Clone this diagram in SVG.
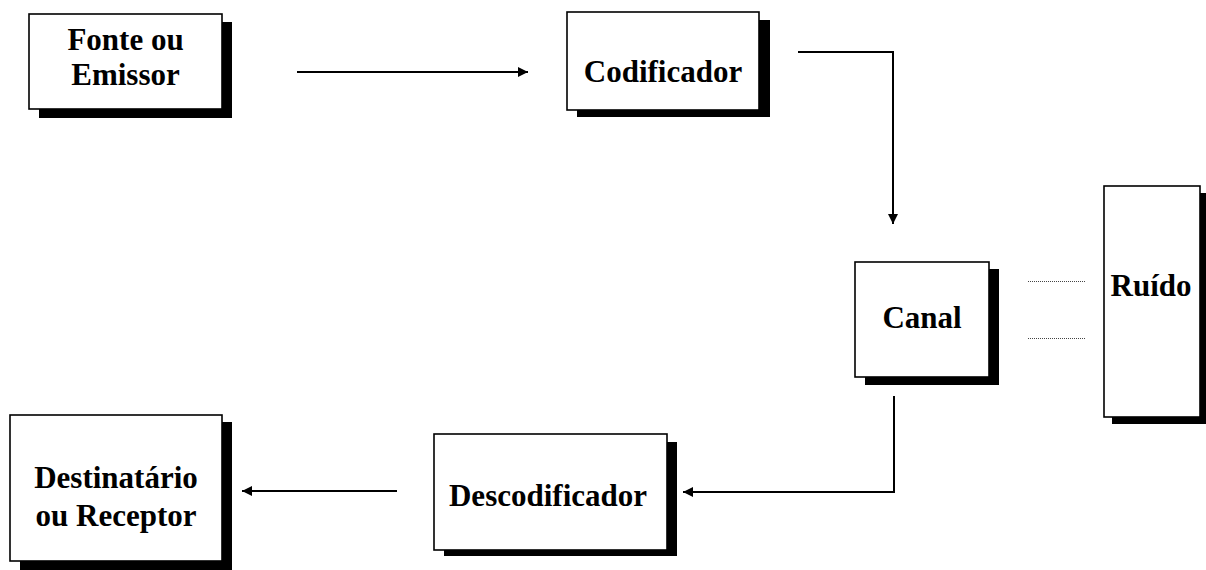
<svg xmlns="http://www.w3.org/2000/svg" width="1206" height="570" viewBox="0 0 1206 570">
  <style>
    .shadow { fill: #000; }
    .box { fill: #fff; stroke: #000; stroke-width: 1.6; }
    .label { font-family: "Liberation Serif", "Times New Roman", serif; font-weight: bold; font-size: 31px; fill: #000; text-anchor: middle; }
    .conn { fill: none; stroke: #000; stroke-width: 2; }
    .dots { fill: none; stroke: #444; stroke-width: 1; stroke-dasharray: 1 1; }
  </style>
  <defs>
    <marker id="arrow" markerUnits="userSpaceOnUse" markerWidth="12" markerHeight="12" viewBox="0 0 12 12" refX="11" refY="6" orient="auto">
      <path d="M1,1 L11,6 L1,11 Z" fill="#000"/>
    </marker>
  </defs>

  <rect width="1206" height="570" fill="#fff"/>

  <g id="fonte">
    <rect class="shadow" x="39" y="22" width="193" height="96"/>
    <rect class="box" x="29" y="14" width="193" height="95"/>
    <text class="label" x="125.5" y="50">Fonte ou</text>
    <text class="label" x="125.5" y="85">Emissor</text>
  </g>

  <g id="codificador">
    <rect class="shadow" x="577" y="20" width="193" height="97"/>
    <rect class="box" x="567" y="12" width="192" height="98"/>
    <text class="label" x="663" y="82">Codificador</text>
  </g>

  <g id="canal">
    <rect class="shadow" x="865" y="269" width="134" height="116"/>
    <rect class="box" x="855" y="262" width="134" height="115"/>
    <text class="label" x="922" y="328">Canal</text>
  </g>

  <g id="ruido">
    <rect class="shadow" x="1112" y="193" width="94" height="231"/>
    <rect class="box" x="1104" y="186" width="96" height="231"/>
    <text class="label" x="1151" y="296">Ruído</text>
  </g>

  <g id="descodificador">
    <rect class="shadow" x="444" y="442" width="233" height="114"/>
    <rect class="box" x="434" y="434" width="233" height="116"/>
    <text class="label" x="548" y="506">Descodificador</text>
  </g>

  <g id="destinatario">
    <rect class="shadow" x="20" y="422" width="212" height="148"/>
    <rect class="box" x="10" y="415" width="212" height="146"/>
    <text class="label" x="116" y="488">Destinatário</text>
    <text class="label" x="116" y="526">ou Receptor</text>
  </g>

  <g id="connectors">
    <path class="conn" d="M297,72 H528" marker-end="url(#arrow)"/>
    <path class="conn" d="M798,52 H893 V224" marker-end="url(#arrow)"/>
    <path class="conn" d="M894,396 V492 H683" marker-end="url(#arrow)"/>
    <path class="conn" d="M397,491 H242" marker-end="url(#arrow)"/>
    <path class="dots" d="M1028,281.5 H1085"/>
    <path class="dots" d="M1028,338.5 H1085"/>
  </g>
</svg>
